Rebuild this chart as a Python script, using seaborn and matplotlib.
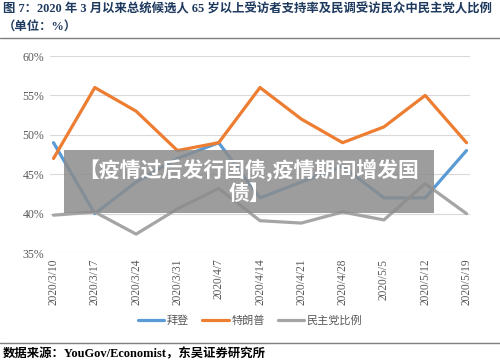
import matplotlib
matplotlib.use("Agg")
import matplotlib.pyplot as plt
import seaborn as sns
import pandas as pd
from matplotlib.lines import Line2D
from matplotlib.patches import Rectangle

dates = ["2020/3/10", "2020/3/17", "2020/3/24", "2020/3/31", "2020/4/7", "2020/4/14",
         "2020/4/21", "2020/4/28", "2020/5/5", "2020/5/12", "2020/5/19"]
biden = [49, 40, 44, 47, 49, 42, 44, 46, 42, 42, 48]
trump = [47, 56, 53, 48, 49, 56, 52, 49, 51, 55, 49]
dem_share = [39.8, 40.2, 37.4, 40.6, 43.2, 39.1, 38.8, 40.2, 39.2, 43.8, 40.0]
series_names = ["拜登", "特朗普", "民主党比例"]
colors = ["#5B9BD5", "#ED7D31", "#A5A5A5"]
yticks = [35, 40, 45, 50, 55, 60]

title_line1 = "图 7：2020 年 3 月以来总统候选人 65 岁以上受访者支持率及民调受访民众中民主党人比例"
title_line2 = "（单位：%）"
source = "数据来源：YouGov/Economist，东吴证券研究所"
banner = "【疫情过后发行国债,疫情期间增发国\n债】"

sns.set_theme(style="white")
plt.rcParams['font.family'] = ['Liberation Serif', 'Noto Sans CJK SC', 'DejaVu Sans']

rows = []
for name, vals in zip(series_names, [biden, trump, dem_share]):
    for i, v in enumerate(vals):
        rows.append({"idx": i, "value": v, "series": name})
df = pd.DataFrame(rows)

fig = plt.figure(figsize=(5.0, 3.63), dpi=100)
ax = fig.add_axes([0.10, 0.303, 0.84, 0.5427])

sns.lineplot(data=df, x="idx", y="value", hue="series", hue_order=series_names,
             palette=colors, linewidth=2.3, ax=ax, legend=False, sort=False)

ax.set_xlim(-0.085, len(dates) - 1 + 0.085)
ax.set_ylim(35, 60)
ax.set_yticks(yticks)
ax.set_yticklabels([f"{t}%" for t in yticks], fontsize=8.5, color="#595959",
                   family=['Liberation Serif'])
ax.set_xticks(range(len(dates)))
ax.set_xticklabels(dates, rotation=90, fontsize=8.3, color="#595959",
                   family=['Liberation Serif'])
ax.tick_params(axis='both', length=0, pad=4)
ax.set_xlabel("")
ax.set_ylabel("")
ax.grid(axis='y', color="#D9D9D9", linewidth=0.8)
ax.set_axisbelow(True)
for s in ax.spines.values():
    s.set_visible(False)

handles = [Line2D([0], [0], color=c, linewidth=2.3) for c in colors]
fig.legend(handles, series_names, loc="center", bbox_to_anchor=(0.5, 1 - 321 / 363),
           ncol=3, frameon=False, handlelength=2.4, handletextpad=0.2,
           columnspacing=1.2, labelcolor="#595959",
           prop={'family': ['Noto Sans CJK SC'], 'size': 8})

title_color = "#1F3A5F"
fig.text(0.006, 1 - 9 / 363, title_line1, fontsize=8.9, fontweight="bold", color=title_color,
         va="center", ha="left", family=['Liberation Serif', 'Noto Sans CJK SC'])
fig.text(0.006, 1 - 27 / 363, title_line2, fontsize=8.9, fontweight="bold", color=title_color,
         va="center", ha="left", family=['Liberation Serif', 'Noto Sans CJK SC'])
fig.add_artist(Line2D([0, 1], [1 - 38 / 363, 1 - 38 / 363], color="#7F7F7F", linewidth=1.0,
                      transform=fig.transFigure))
fig.add_artist(Line2D([0, 1], [1 - 343 / 363, 1 - 343 / 363], color="#7F7F7F", linewidth=1.0,
                      transform=fig.transFigure))
fig.text(0.006, 1 - 354 / 363, source, fontsize=8.9, fontweight="bold", color="black",
         va="center", ha="left", family=['Liberation Serif', 'Noto Sans CJK SC'])

# overlay banner
fig.add_artist(Rectangle((64 / 500, 1 - 213 / 363), (434 - 64) / 500, (213 - 150) / 363,
                         transform=fig.transFigure, facecolor="#8C8C8C", alpha=0.85,
                         edgecolor="none", zorder=10))
fig.text(249 / 500, 1 - 181 / 363, banner, fontsize=15, fontweight="bold", color="white",
         ha="center", va="center", linespacing=1.1, zorder=11,
         family=['Noto Sans CJK SC', 'DejaVu Sans'])

fig.savefig("out.png", dpi=100)
